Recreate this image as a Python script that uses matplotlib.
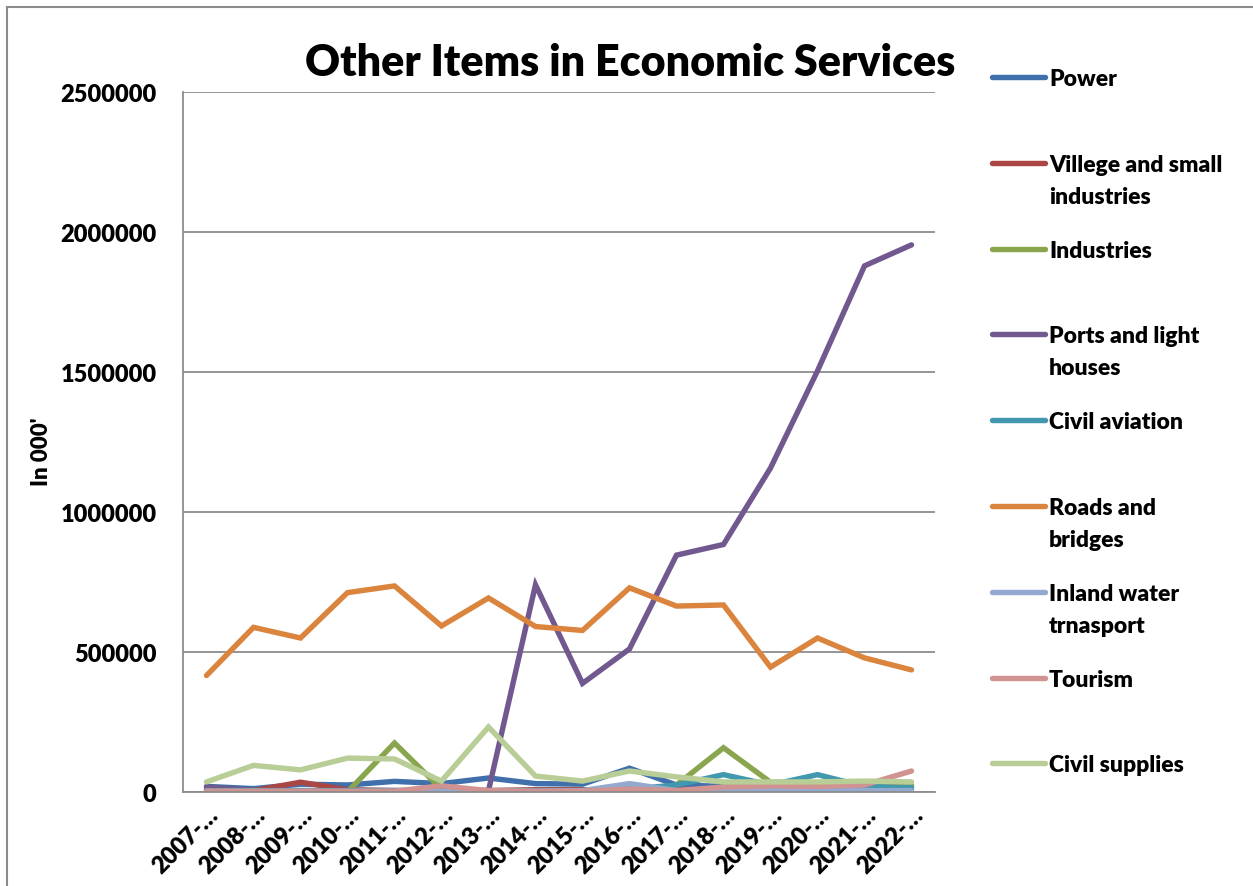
import matplotlib
matplotlib.use("Agg")
import matplotlib.pyplot as plt
from matplotlib.lines import Line2D

years = ["2007-…", "2008-…", "2009-…", "2010-…", "2011-…", "2012-…", "2013-…", "2014-…",
         "2015-…", "2016-…", "2017-…", "2018-…", "2019-…", "2020-…", "2021-…", "2022-…"]

power = [20000, 12000, 28000, 25000, 38000, 30000, 50000, 30000, 28000, 85000, 25000, 20000, 15000, 15000, 18000, 20000]
village = [8000, 5000, 35000, 8000, 5000, 5000, 5000, 8000, 8000, 10000, 8000, 10000, 12000, 15000, 10000, 10000]
industries = [0, 0, 0, 0, 175000, 10000, 0, 0, 0, 0, 25000, 158000, 35000, 30000, 22000, 25000]
ports = [18000, 5000, 5000, 5000, 5000, 5000, 5000, 740000, 388000, 511000, 846000, 884000, 1157000, 1504000, 1879000, 1954000]
aviation = [5000, 5000, 5000, 5000, 5000, 5000, 5000, 5000, 5000, 10000, 25000, 62000, 25000, 62000, 20000, 15000]
roads = [416000, 588000, 550000, 712000, 736000, 593000, 693000, 591000, 577000, 729000, 664000, 668000, 446000, 550000, 479000, 436000]
inland = [2000, 2000, 2000, 2000, 2000, 2000, 2000, 2000, 5000, 30000, 5000, 5000, 5000, 5000, 5000, 5000]
tourism = [3000, 3000, 3000, 3000, 3000, 22000, 5000, 3000, 3000, 10000, 5000, 18000, 22000, 20000, 25000, 75000]
civil_supplies = [36000, 95000, 79000, 121000, 118000, 39000, 232000, 57000, 39000, 75000, 54000, 36000, 36000, 36000, 39000, 36000]

series_names = ["Power", "Villege and small\nindustries", "Industries", "Ports and light\nhouses",
                "Civil aviation", "Roads and\nbridges", "Inland water\ntrnasport", "Tourism", "Civil supplies"]
series_values = [power, village, industries, ports, aviation, roads, inland, tourism, civil_supplies]
colors = ["#4070AB", "#AA4643", "#89A54E", "#71588F", "#4198AF", "#DB843D", "#93A9CF", "#D19392", "#B9CD96"]

yticks = [0, 500000, 1000000, 1500000, 2000000, 2500000]

FONT = "Lato"
plt.rcParams["font.family"] = [FONT, "DejaVu Sans"]

fig = plt.figure(figsize=(12.53, 8.87), dpi=100)
W, H = 1253, 887

# outer border of chart area
fig.add_artist(Line2D([7 / W, 7 / W], [0, 1 - 8 / H], color="#8c8c8c", lw=1.5))
fig.add_artist(Line2D([7 / W, 1], [1 - 8 / H, 1 - 8 / H], color="#8c8c8c", lw=1.5))

ax = fig.add_axes([183 / W, 1 - 793 / H, (935 - 183) / W, (793 - 93) / H])
x = list(range(len(years)))
for vals, col in zip(series_values, colors):
    ax.plot(x, vals, color=col, lw=3.9, solid_capstyle="round", solid_joinstyle="miter")

ax.set_xlim(-0.5, len(years) - 0.5)
ax.set_ylim(0, 2500000)
ax.set_yticks(yticks)
ax.set_yticklabels([str(v) for v in yticks], fontsize=17, fontweight="heavy")
ax.set_xticks(x)
ax.set_xticklabels(years, fontsize=17, fontweight="heavy", rotation=45, ha="right", va="top",
                   rotation_mode="anchor")
ax.tick_params(axis="y", length=0, pad=19)
ax.tick_params(axis="x", length=0, pad=8)
ax.grid(axis="y", color="#8c8c8c", lw=1.3)
ax.set_axisbelow(True)
for s in ["top", "right"]:
    ax.spines[s].set_visible(False)
for s in ["left", "bottom"]:
    ax.spines[s].set_color("#8c8c8c")
    ax.spines[s].set_linewidth(1.3)

fig.text(42 / W, 1 - 452 / H, "In 000'", rotation=90, fontsize=16, fontweight="heavy",
         ha="center", va="center")
fig.text(630 / W, 1 - 63 / H, "Other Items in Economic Services", fontsize=31, fontweight="heavy",
         ha="center", va="center")

# legend
top0 = 78
step = 85.8
for i, (name, col) in enumerate(zip(series_names, colors)):
    yc = top0 + i * step
    fig.add_artist(Line2D([992 / W, 1045 / W], [1 - yc / H, 1 - yc / H], color=col, lw=3.9,
                          solid_capstyle="round"))
    fig.text(1049 / W, 1 - (yc - 9) / H, name, fontsize=16.5, fontweight="heavy", ha="left",
             va="top", linespacing=1.65)

fig.savefig("out.png", dpi=100)
